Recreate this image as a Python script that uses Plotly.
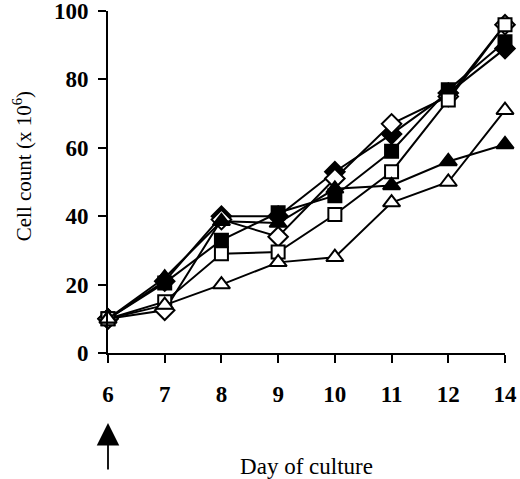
"""
Cell count by day of culture, six conditions, black-and-white journal style.
"""

import plotly.graph_objects as go

# Days of culture (categorical axis, 13 is skipped in the source figure)
days = ["6", "7", "8", "9", "10", "11", "12", "14"]

# Cell counts (x 10^6)
filled_diamond = [10, 21, 40, 40, 53, 64, 76, 89]
open_diamond = [10, 12.5, 39, 34, 51, 67, 75, 96]
filled_square = [10, 20.5, 33, 41, 46, 59, 77, 91]
open_square = [10, 15, 29, 29.5, 40.5, 53, 74, 96]
filled_triangle = [10, 22, 38.5, 38, 48, 49, 56, 61]
open_triangle = [10, 14, 20, 26.5, 28, 44, 50, 71]

serif = "Liberation Serif, Times New Roman, serif"

series = [
    (filled_diamond, "diamond", "black", 15),
    (open_diamond, "diamond", "white", 15),
    (filled_square, "square", "black", 13),
    (open_square, "square", "white", 13),
    (filled_triangle, "triangle-up", "black", 15),
    (open_triangle, "triangle-up", "white", 15),
]

fig = go.Figure()

for values, symbol, fill, size in series:
    fig.add_trace(go.Scatter(
        x=days,
        y=values,
        mode="lines+markers",
        line=dict(color="black", width=2),
        marker=dict(symbol=symbol, size=size, color=fill,
                    line=dict(color="black", width=2)),
        cliponaxis=False,
        showlegend=False,
    ))

# Arrow under day 6 marking the start of treatment
fig.add_annotation(
    x=0, xref="x", y=-0.205, yref="paper",
    ax=0, ay=48, text="", showarrow=True,
    arrowhead=2, arrowsize=2.5, arrowwidth=1.8, arrowcolor="black",
)

# y title as an annotation: in the original it sits a bit above the axis middle
fig.add_annotation(
    text="Cell count (x 10<sup>6</sup>)",
    xref="paper", x=-0.215, yref="paper", y=0.545,
    xanchor="center", yanchor="middle", textangle=-90,
    showarrow=False, font=dict(family=serif, size=21),
)

fig.update_layout(
    width=520,
    height=479,
    margin=dict(l=108, r=15, t=11, b=126),
    plot_bgcolor="white",
    paper_bgcolor="white",
    font=dict(family=serif, color="black"),
    xaxis=dict(
        type="category",
        range=[0, 7],
        automargin=False,
        showline=True, linecolor="black", linewidth=2,
        ticks="outside", ticklen=8, tickwidth=2, tickcolor="black",
        showgrid=False, zeroline=False,
        tickfont=dict(family=serif, size=23, weight="bold"),
        ticklabelstandoff=11,
        title=dict(text="Day of culture", font=dict(family=serif, size=23),
                   standoff=55),
    ),
    yaxis=dict(
        range=[0, 100],
        dtick=20,
        automargin=False,
        showline=True, linecolor="black", linewidth=2,
        ticks="outside", ticklen=8, tickwidth=2, tickcolor="black",
        showgrid=False, zeroline=False,
        tickfont=dict(family=serif, size=23, weight="bold"),
        ticklabelstandoff=5,
        ticklabeloverflow="allow",
    ),
)

# drop the default 8px page margin so the figure fills the window
fig.write_html("out.html",
               config={"displayModeBar": False},
               post_script="document.body.style.margin='0';"
                           "document.body.style.overflow='hidden';")
